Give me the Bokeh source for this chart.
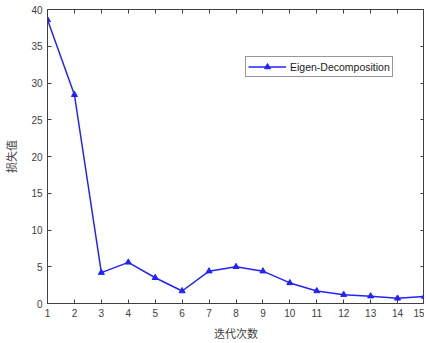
from bokeh.plotting import figure
from bokeh.models import LinearAxis, Legend, LegendItem, FixedTicker, Range1d
from bokeh.embed import file_html
from bokeh.resources import INLINE

iterations = [1, 2, 3, 4, 5, 6, 7, 8, 9, 10, 11, 12, 13, 14, 15]
loss = [38.6, 28.4, 4.2, 5.6, 3.5, 1.7, 4.4, 5.0, 4.4, 2.8, 1.7, 1.2, 1.0, 0.7, 0.95]
x_ticks = list(range(1, 16))
y_ticks = [0, 5, 10, 15, 20, 25, 30, 35, 40]
series_name = "Eigen-Decomposition"
x_title = "迭代次数"
y_title = "损失值"

FONT = "Liberation Sans"
GRAY = "#404040"
BLUE = "#2222ff"

p = figure(frame_width=377, frame_height=294, output_backend="svg", toolbar_location=None,
           x_range=Range1d(1, 15), y_range=Range1d(0, 40),
           min_border_left=43, min_border_right=0, min_border_top=9, min_border_bottom=30)
p.outline_line_color = GRAY
p.outline_line_width = 1
p.xgrid.visible = False
p.ygrid.visible = False
p.background_fill_color = "white"
p.border_fill_color = "white"

r_line = p.line(iterations, loss, line_color=BLUE, line_width=1.5)
r_mark = p.scatter(iterations, loss, marker="triangle", size=6, fill_color=BLUE, line_color=BLUE)

def style_axis(ax):
    ax.major_tick_in = 4
    ax.major_tick_out = 0
    ax.minor_tick_line_color = None
    ax.axis_line_color = GRAY
    ax.major_tick_line_color = GRAY
    ax.major_label_text_font = FONT
    ax.major_label_text_font_size = "10px"
    ax.major_label_text_color = GRAY
    ax.axis_label_text_font = "Noto Sans CJK SC"
    ax.axis_label_text_font_size = "11px"
    ax.axis_label_text_font_style = "normal"
    ax.axis_label_text_color = GRAY

style_axis(p.xaxis[0])
style_axis(p.yaxis[0])
p.xaxis[0].ticker = FixedTicker(ticks=x_ticks)
p.yaxis[0].ticker = FixedTicker(ticks=y_ticks)
p.xaxis[0].axis_label = x_title
p.yaxis[0].axis_label = y_title
p.xaxis[0].axis_label_standoff = 5
p.yaxis[0].axis_label_standoff = 9
p.xaxis[0].major_label_standoff = 5
p.yaxis[0].major_label_standoff = 5

top = LinearAxis(ticker=FixedTicker(ticks=x_ticks),
                 major_label_overrides={t: "" for t in x_ticks})
style_axis(top)
top.major_label_standoff = 0
p.add_layout(top, "above")
right = LinearAxis(ticker=FixedTicker(ticks=y_ticks),
                   major_label_overrides={t: "" for t in y_ticks})
style_axis(right)
right.major_label_standoff = 0
p.add_layout(right, "right")

legend = Legend(items=[LegendItem(label=series_name, renderers=[r_line, r_mark])],
                location=(198, 226))
legend.label_text_font = FONT
legend.label_text_font_size = "10.5px"
legend.label_text_color = "#202020"
legend.border_line_color = "#303030"
legend.border_line_width = 1
legend.padding = 2
legend.margin = 0
legend.spacing = 0
legend.glyph_width = 38
legend.glyph_height = 15
legend.label_standoff = 4
legend.label_height = 15
p.add_layout(legend, "center")

open("out.html", "w").write(file_html(p, INLINE))
